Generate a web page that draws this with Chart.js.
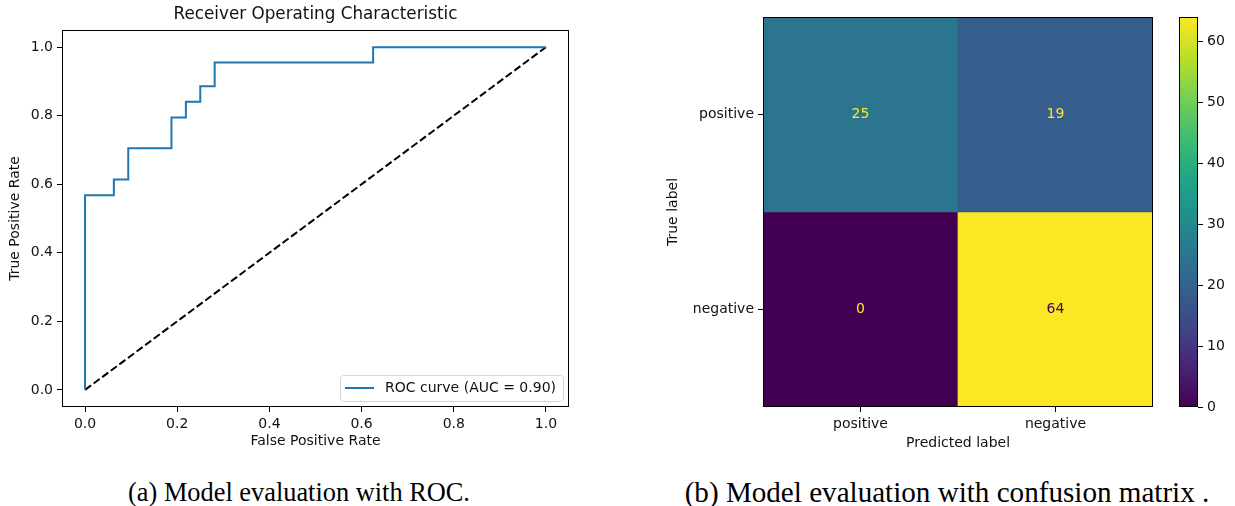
<!DOCTYPE html>
<html><head><meta charset="utf-8">
<script src="https://cdn.jsdelivr.net/npm/chart.js@4.4.0/dist/chart.umd.min.js"></script>
<style>
html,body{margin:0;padding:0;background:#fff;width:1235px;height:506px;overflow:hidden;}
.box{position:absolute;}
.cap{position:absolute;font-family:"Liberation Serif","DejaVu Serif",serif;font-size:25px;line-height:25px;color:#000;white-space:nowrap;}
</style></head><body>
<div class="box" style="left:0;top:0;width:600px;height:460px"><canvas id="roc"></canvas></div>
<div class="box" style="left:640px;top:0;width:520px;height:460px"><canvas id="cm"></canvas></div>
<div class="box" style="left:1160px;top:0;width:75px;height:460px"><canvas id="cb"></canvas></div>
<div class="cap" id="capA" data-cx="299" data-w="342" style="top:480px">(a) Model evaluation with ROC.</div>
<div class="cap" id="capB" data-cx="947" data-w="525" style="top:480px">(b) Model evaluation with confusion matrix .</div>
<script>
// ---------- data ----------
const rocFpr = [0, 0, 0.0625, 0.0625, 0.09375, 0.09375, 0.1875, 0.1875, 0.21875, 0.21875, 0.25, 0.25, 0.28125, 0.28125, 0.625, 0.625, 1];
const rocTpr = [0, 0.568, 0.568, 0.614, 0.614, 0.705, 0.705, 0.795, 0.795, 0.841, 0.841, 0.886, 0.886, 0.955, 0.955, 1, 1];
const chanceX = [0, 1];
const chanceY = [0, 1];
const rocTicks = [0, 0.2, 0.4, 0.6, 0.8, 1.0];
const rocLabel = 'ROC curve (AUC = 0.90)';
const rocTitle = 'Receiver Operating Characteristic';

const predLabels = ['positive', 'negative'];
const trueLabels = ['positive', 'negative'];
const cmRowPositive = [25, 19];
const cmRowNegative = [0, 64];
const cmRows = [cmRowPositive, cmRowNegative];
const cbTicks = [0, 10, 20, 30, 40, 50, 60];

// ---------- helpers ----------
const FONT = "'DejaVu Sans', sans-serif";
const FS = 14;      // tick / label font size
const FS_T = 16.8;  // title font size
Chart.defaults.font.family = FONT;
Chart.defaults.color = '#111';
const VIRIDIS = ['#440154','#482475','#414487','#355f8d','#2a788e','#21918c','#22a884','#44bf70','#7ad151','#bddf26','#fde725'];
function hex2rgb(h){return [1,3,5].map(i=>parseInt(h.substr(i,2),16));}
function viridis(t){
  t = Math.max(0, Math.min(1, t));
  const p = t*(VIRIDIS.length-1), i = Math.min(Math.floor(p), VIRIDIS.length-2), f = p-i;
  const a = hex2rgb(VIRIDIS[i]), b = hex2rgb(VIRIDIS[i+1]);
  const c = a.map((v,k)=>Math.round(v+(b[k]-v)*f));
  return `rgb(${c[0]},${c[1]},${c[2]})`;
}
const allVals = cmRows.flat();
const vmin = Math.min(...allVals), vmax = Math.max(...allVals);

const frame = {id:'frame', afterDraw(chart){
  const {ctx, chartArea:a} = chart;
  ctx.save(); ctx.strokeStyle = '#000'; ctx.lineWidth = 1;
  ctx.strokeRect(Math.round(a.left)+0.5, Math.round(a.top)+0.5, Math.round(a.right)-Math.round(a.left)-1, Math.round(a.bottom)-Math.round(a.top)-1);
  ctx.restore();
}};

const gridOpts = {drawOnChartArea:false, drawTicks:true, tickLength:5, color:'#000', tickColor:'#000', tickWidth:1};
const tickOpts = (cb) => Object.assign({font:{size:FS}, color:'#111', padding:4}, cb ? {callback:cb} : {});
const titleOpts = (text, top, bottom) => ({display:true, text, color:'#111', font:{size:FS}, padding:{top, bottom}});

// ---------- ROC ----------
const rocLegend = {id:'rocLegend', afterDraw(chart){
  const {ctx, chartArea:a} = chart; const ds = chart.data.datasets[0];
  ctx.save(); ctx.font = `${FS}px ${FONT}`;
  const tw = ctx.measureText(ds.label).width;
  const w = 5+29+11+tw+7, h = 26;
  const right = a.right-6, bottom = a.bottom-6, left = right-w, top = bottom-h;
  ctx.fillStyle = 'rgba(255,255,255,0.8)'; ctx.strokeStyle = '#d6d6d6'; ctx.lineWidth = 1;
  ctx.beginPath(); ctx.roundRect(Math.round(left)+0.5, Math.round(top)+0.5, Math.round(w), h, 3); ctx.fill(); ctx.stroke();
  ctx.strokeStyle = ds.borderColor; ctx.lineWidth = ds.borderWidth;
  ctx.beginPath(); ctx.moveTo(left+5, top+h/2); ctx.lineTo(left+34, top+h/2); ctx.stroke();
  ctx.fillStyle = '#111'; ctx.textBaseline = 'middle'; ctx.fillText(ds.label, left+45, top+h/2+0.5);
  ctx.restore();
}};

new Chart(document.getElementById('roc'), {
  type:'scatter',
  data:{datasets:[
    {label:rocLabel, data:rocFpr.map((x,i)=>({x, y:rocTpr[i]})), showLine:true, borderColor:'#1f77b4', borderWidth:2, pointRadius:0, tension:0, fill:false},
    {label:'chance', data:chanceX.map((x,i)=>({x, y:chanceY[i]})), showLine:true, borderColor:'#000', borderWidth:2, borderDash:[7.5,3.2], pointRadius:0, fill:false}
  ]},
  options:{
    responsive:true, maintainAspectRatio:false, animation:false, events:[],
    layout:{padding:{left:0, right:31, top:0, bottom:0}},
    plugins:{
      legend:{display:false}, tooltip:{enabled:false},
      title:{display:true, fullSize:false, text:rocTitle, color:'#111', font:{size:FS_T, weight:'normal'}, padding:{top:4.9, bottom:4.94}}
    },
    scales:{
      x:{type:'linear', min:-0.05, max:1.05, grid:gridOpts, border:{display:false},
        afterBuildTicks:s=>{s.ticks = rocTicks.map(v=>({value:v}));},
        afterFit:s=>{s.height = 53;},
        ticks:tickOpts(v=>Number(v).toFixed(1)),
        title:titleOpts('False Positive Rate', 0, 10.6)},
      y:{type:'linear', min:-0.05, max:1.05, grid:gridOpts, border:{display:false},
        afterBuildTicks:s=>{s.ticks = rocTicks.map(v=>({value:v}));},
        afterFit:s=>{s.width = 62;},
        ticks:tickOpts(v=>Number(v).toFixed(1)),
        title:titleOpts('True Positive Rate', 7.4, 0)}
    }
  },
  plugins:[frame, rocLegend]
});

// ---------- Confusion matrix ----------
const cellText = {id:'cellText', afterDatasetsDraw(chart){
  const {ctx, scales:{x, y}} = chart;
  ctx.save(); ctx.font = `${FS}px ${FONT}`; ctx.textAlign = 'center'; ctx.textBaseline = 'middle';
  cmRows.forEach((row,i)=>row.forEach((v,j)=>{
    ctx.fillStyle = ((v-vmin)/(vmax-vmin) < 0.5) ? viridis(1) : viridis(0);
    ctx.fillText(String(v), x.getPixelForValue(j), y.getPixelForValue(i));
  }));
  ctx.restore();
}};

new Chart(document.getElementById('cm'), {
  type:'bar',
  data:{labels:predLabels, datasets:cmRows.map((row,i)=>({
    label:trueLabels[i],
    data:row.map(()=>[i-0.5, i+0.5]),
    backgroundColor:row.map(v=>viridis((v-vmin)/(vmax-vmin))),
    borderWidth:0, borderSkipped:false, grouped:false, barPercentage:1, categoryPercentage:1
  }))},
  options:{
    responsive:true, maintainAspectRatio:false, animation:false, events:[],
    layout:{padding:{left:0, right:7, top:17, bottom:0}},
    plugins:{legend:{display:false}, tooltip:{enabled:false}},
    scales:{
      x:{type:'category', offset:true, border:{display:false},
        grid:Object.assign({}, gridOpts, {offset:false}),
        afterFit:s=>{s.height = 53;},
        ticks:tickOpts(),
        title:titleOpts('Predicted label', 0, 8.6)},
      y:{type:'linear', min:-0.5, max:1.5, reverse:true, grid:gridOpts, border:{display:false},
        afterBuildTicks:s=>{s.ticks = trueLabels.map((_,i)=>({value:i}));},
        afterFit:s=>{s.width = 123;},
        ticks:tickOpts(v=>trueLabels[v]),
        title:titleOpts('True label', 24.6, 0)}
    }
  },
  plugins:[frame, cellText]
});

// ---------- Colorbar ----------
new Chart(document.getElementById('cb'), {
  type:'bar',
  data:{labels:[''], datasets:[{
    label:'colorbar', data:[[vmin, vmax]], borderWidth:0, borderSkipped:false, barPercentage:1, categoryPercentage:1,
    backgroundColor:(c)=>{
      const ch = c.chart; if(!ch.chartArea) return viridis(0.5);
      const ys = ch.scales.y; const y0 = ys.getPixelForValue(vmin), y1 = ys.getPixelForValue(vmax);
      const g = ch.ctx.createLinearGradient(0, y0, 0, y1);
      VIRIDIS.forEach((col,k)=>g.addColorStop(k/(VIRIDIS.length-1), col));
      return g;
    }
  }]},
  options:{
    responsive:true, maintainAspectRatio:false, animation:false, events:[],
    layout:{padding:{left:19, right:0, top:17, bottom:53}},
    plugins:{legend:{display:false}, tooltip:{enabled:false}},
    scales:{
      x:{display:false},
      y:{type:'linear', position:'right', min:vmin, max:vmax, grid:gridOpts, border:{display:false},
        afterBuildTicks:s=>{s.ticks = cbTicks.map(v=>({value:v}));},
        afterFit:s=>{s.width = 37;},
        ticks:tickOpts()}
    }
  },
  plugins:[frame]
});

// ---------- captions ----------
document.querySelectorAll('.cap').forEach(el=>{
  const target = +el.dataset.w, cx = +el.dataset.cx;
  const w = el.getBoundingClientRect().width;
  const fs = 25*target/w;
  el.style.fontSize = fs+'px';
  const w2 = el.getBoundingClientRect().width;
  el.style.left = (cx - w2/2)+'px';
});
</script>
</body></html>
